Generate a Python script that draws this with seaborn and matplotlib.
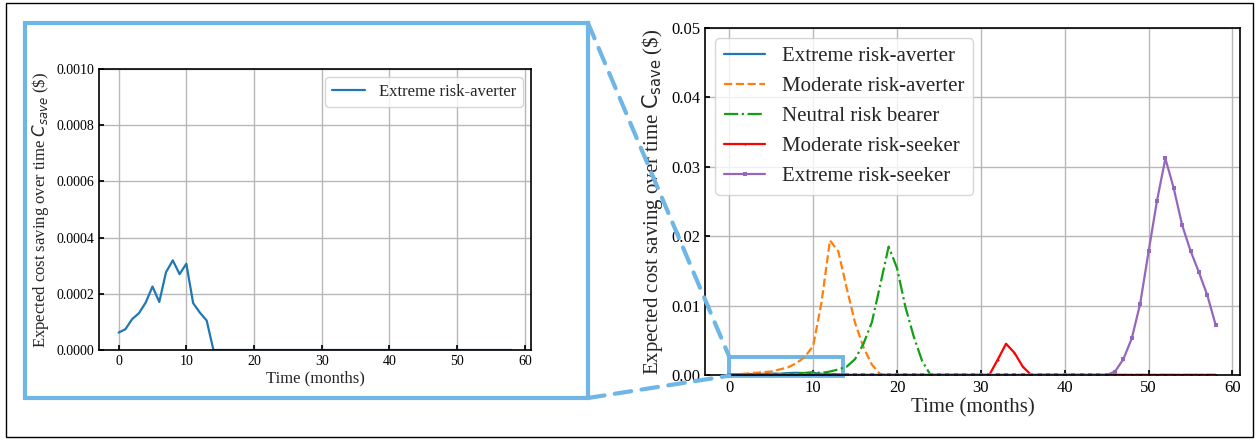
import numpy as np
import pandas as pd
import matplotlib
matplotlib.use("Agg")
import matplotlib.pyplot as plt
from matplotlib.patches import Rectangle, ConnectionPatch
import seaborn as sns

# ---- data (months 0..58) ----
months = list(range(59))

extreme_averter = [0.000062, 0.000074, 0.000110, 0.000131, 0.000169, 0.000226, 0.000171,
                   0.000277, 0.000319, 0.000270, 0.000307, 0.000167, 0.000133, 0.000105,
                   0.0] + [0.0] * 44

moderate_averter = [0.0001, 0.0001, 0.0002, 0.0003, 0.0004, 0.0005, 0.0008, 0.0011,
                    0.0017, 0.0026, 0.0042, 0.0105, 0.0194, 0.0178, 0.0125, 0.0075,
                    0.0040, 0.0015, 0.0001] + [0.0] * 40

neutral_bearer = [0.00002, 0.00003, 0.00004, 0.00006, 0.00008, 0.0001, 0.00013, 0.00017,
                  0.00022, 0.0003, 0.0004, 0.0003, 0.0005, 0.0008, 0.0012, 0.0023,
                  0.0045, 0.0076, 0.0130, 0.0185, 0.0154, 0.0098, 0.0055, 0.0020,
                  0.0] + [0.0] * 34

moderate_seeker = [0.0] * 32 + [0.0022, 0.0045, 0.0032, 0.0012] + [0.0] * 23

extreme_seeker = [0.0] * 46 + [0.0005, 0.0023, 0.0053, 0.0103, 0.0178, 0.0251, 0.0312,
                               0.0269, 0.0216, 0.0179, 0.0148, 0.0115, 0.0072]

series_labels = ["Extreme risk-averter", "Moderate risk-averter", "Neutral risk bearer",
                 "Moderate risk-seeker", "Extreme risk-seeker"]

x_ticks = [0, 10, 20, 30, 40, 50, 60]
left_y_ticks = [0.0, 0.0002, 0.0004, 0.0006, 0.0008, 0.0010]
right_y_ticks = [0.00, 0.01, 0.02, 0.03, 0.04, 0.05]

# ---- style ----
sns.set_theme(style="whitegrid")
plt.rcParams.update({
    "font.family": ["Liberation Serif", "DejaVu Serif"],
    "mathtext.fontset": "dejavusans",
    "axes.edgecolor": "black",
    "axes.linewidth": 1.2,
    "grid.color": "#b8b8b8",
    "grid.linewidth": 1.0,
    "xtick.direction": "in",
    "ytick.direction": "in",
    "xtick.bottom": True,
    "ytick.left": True,
    "xtick.major.size": 3.5,
    "ytick.major.size": 3.5,
    "xtick.color": "black",
    "ytick.color": "black",
    "legend.framealpha": 0.8,
    "legend.edgecolor": "0.8",
})

W, H = 1258, 440
fig = plt.figure(figsize=(W / 100, H / 100), dpi=100)

def fx(px):
    return px / W

def fy(py):
    return 1 - py / H

ax1 = fig.add_axes([fx(99), fy(350), fx(531) - fx(99), fy(69) - fy(350)])
ax2 = fig.add_axes([fx(705), fy(375), fx(1240) - fx(705), fy(28) - fy(375)])

colors = ["#1f77b4", "#ff7f0e", "#12a012", "#ff0000", "#9467bd"]
blue_box = "#6db6e6"

# ---- left: zoomed view of the extreme risk-averter ----
sns.lineplot(x=months, y=extreme_averter, ax=ax1, color=colors[0], linewidth=1.6,
             label=series_labels[0])
ax1.set_xlim(-2.9, 60.9)
ax1.set_ylim(0, 0.001)
ax1.set_xticks(x_ticks)
ax1.set_yticks(left_y_ticks)
ax1.set_yticklabels([f"{v:.4f}" for v in left_y_ticks])
ax1.tick_params(labelsize=10)
ax1.set_xlabel("Time (months)", fontsize=12, labelpad=2)
ax1.set_ylabel(r"Expected cost saving over time $C_{save}$ (\$)", fontsize=12, labelpad=4)
ax1.legend(loc="upper right", fontsize=12, handlelength=2.0)

# ---- right: all five risk attitudes ----
sns.lineplot(x=months, y=extreme_averter, ax=ax2, color=colors[0], linewidth=1.6,
             label=series_labels[0])
sns.lineplot(x=months, y=moderate_averter, ax=ax2, color=colors[1], linewidth=1.6,
             linestyle="--", label=series_labels[1])
sns.lineplot(x=months, y=neutral_bearer, ax=ax2, color=colors[2], linewidth=1.6,
             linestyle="-.", label=series_labels[2])
sns.lineplot(x=months, y=moderate_seeker, ax=ax2, color=colors[3], linewidth=1.6,
             marker=".", markersize=3, markeredgewidth=0, label=series_labels[3])
sns.lineplot(x=months, y=extreme_seeker, ax=ax2, color=colors[4], linewidth=1.6,
             marker="s", markersize=3, markeredgewidth=0, label=series_labels[4])
ax2.set_xlim(-2.9, 60.9)
ax2.set_ylim(0, 0.05)
ax2.set_xticks(x_ticks)
ax2.set_yticks(right_y_ticks)
ax2.set_yticklabels([f"{v:.2f}" for v in right_y_ticks])
ax2.tick_params(labelsize=12)
ax2.set_xlabel("Time (months)", fontsize=15, labelpad=2)
ax2.set_ylabel(r"Expected cost saving over time $\mathrm{C_{save}}$ (\$)", fontsize=15,
               labelpad=4)
ax2.legend(loc="upper left", fontsize=15, handlelength=2.0)

# zoom window on the right axes
zoom_rect = Rectangle((0, -0.0001), 13.6, 0.0027, fill=False, edgecolor=blue_box,
                      linewidth=2.8, clip_on=False, zorder=1)
ax2.add_patch(zoom_rect)

# inset frame around the left panel
fig.patches.append(Rectangle((fx(25), fy(398)), fx(588) - fx(25), fy(23) - fy(398),
                             transform=fig.transFigure, fill=False, edgecolor=blue_box,
                             linewidth=3.0))

# dashed connectors from the inset frame to the zoom window
for fig_pt, data_pt in [((fx(588), fy(23)), (0, 0.0026)), ((fx(588), fy(398)), (0, -0.0001))]:
    con = ConnectionPatch(xyA=fig_pt, coordsA=fig.transFigure, xyB=data_pt,
                          coordsB=ax2.transData, color=blue_box, linewidth=3.0,
                          linestyle=(0, (4, 2.5)), zorder=5)
    fig.add_artist(con)

# outer border
fig.patches.append(Rectangle((fx(6), fy(437)), fx(1253) - fx(6), fy(3) - fy(437),
                             transform=fig.transFigure, fill=False, edgecolor="black",
                             linewidth=1.0))

fig.savefig("out.png", dpi=100)
